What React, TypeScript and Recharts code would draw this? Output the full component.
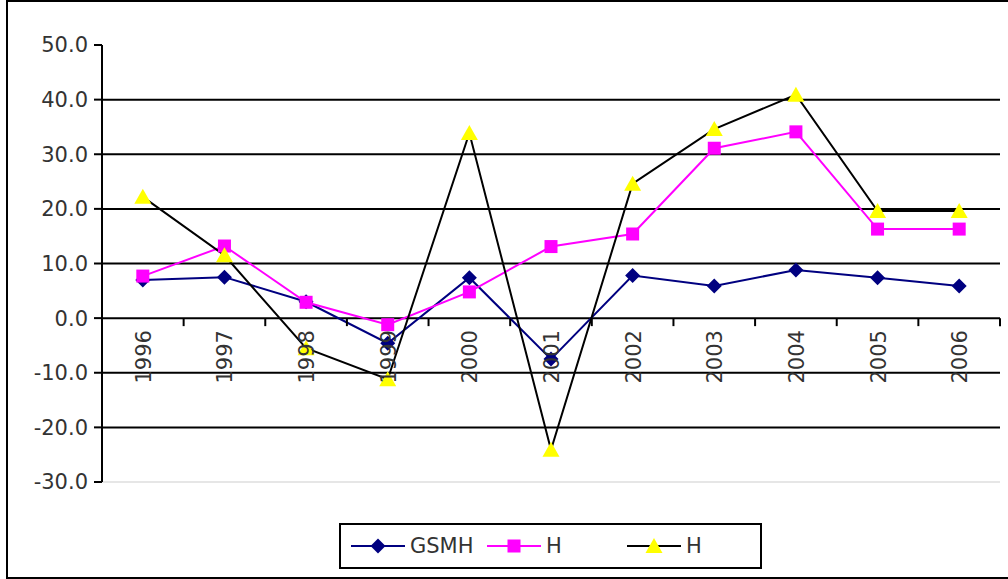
import { CartesianGrid, Line, LineChart, ReferenceLine, XAxis, YAxis } from "recharts";

const years = ["1996", "1997", "1998", "1999", "2000", "2001", "2002", "2003", "2004", "2005", "2006"];
const gsmh = [7.0, 7.5, 3.0, -4.6, 7.4, -7.5, 7.8, 5.9, 8.8, 7.4, 5.9];
const hPink = [7.7, 13.2, 2.9, -1.2, 4.8, 13.1, 15.4, 31.1, 34.1, 16.3, 16.3];
const hBlack = [22.2, 11.5, -5.5, -11.2, 33.9, -24.1, 24.6, 34.6, 40.9, 19.6, 19.6];
const yTicks = [-30, -20, -10, 0, 10, 20, 30, 40, 50];
const gridValues = [-20, -10, 10, 20, 30, 40];
const seriesNames = ["GSMH", "H", "H"];

const data = years.map((year, i) => ({
  year,
  gsmh: gsmh[i],
  hPink: hPink[i],
  hBlack: hBlack[i],
}));

const W = 1008;
const H = 579;
const yAxisW = 102;
const xAxisH = 30;
const M = { top: 45, right: 8, bottom: 97 - xAxisH, left: 0 };
const plotW = W - yAxisW - M.right;
const plotH = H - M.top - 97;
const yMin = -30;
const yMax = 50;
const zeroShift = (plotH * (0 - yMin)) / (yMax - yMin); // px from plot bottom up to the 0 line
const band = plotW / years.length;
const font = "'DejaVu Sans', sans-serif";
const fs = 21;

function Diamond(props: any) {
  const { cx, cy } = props;
  if (cx == null || cy == null) return null;
  const r = 7.5;
  return <path d={`M${cx},${cy - r}L${cx + r},${cy}L${cx},${cy + r}L${cx - r},${cy}Z`} fill="#000080" />;
}

function Square(props: any) {
  const { cx, cy } = props;
  if (cx == null || cy == null) return null;
  return <rect x={cx - 6.5} y={cy - 6.5} width={13} height={13} fill="#FF00FF" />;
}

function Triangle(props: any) {
  const { cx, cy } = props;
  if (cx == null || cy == null) return null;
  return <path d={`M${cx},${cy - 8}L${cx + 8.5},${cy + 7}L${cx - 8.5},${cy + 7}Z`} fill="#FFFF00" />;
}

function YearTick(props: any) {
  const { x, payload, index } = props;
  const zy = M.top + plotH - zeroShift;
  return (
    <g>
      <line x1={x - band / 2} y1={zy} x2={x - band / 2} y2={zy + 8} stroke="#000" strokeWidth={2} />
      {index === years.length - 1 && (
        <line x1={x + band / 2} y1={zy} x2={x + band / 2} y2={zy + 8} stroke="#000" strokeWidth={2} />
      )}
      <text
        x={0}
        y={0}
        transform={`translate(${x + 8},${zy + 12}) rotate(-90)`}
        textAnchor="end"
        fill="#333"
        fontSize={fs}
        fontFamily={font}
      >
        {payload.value}
      </text>
    </g>
  );
}

function LegendBox() {
  const item = (left: number, label: string, color: string, marker: JSX.Element) => (
    <div style={{ position: "absolute", left, top: 0, height: 42, display: "flex", alignItems: "center" }}>
      <svg width={56} height={20}>
        <line x1={0} y1={10} x2={54} y2={10} stroke={color} strokeWidth={2} />
        {marker}
      </svg>
      <span style={{ marginLeft: 3, fontSize: fs, color: "#333", fontFamily: font }}>{label}</span>
    </div>
  );
  return (
    <div
      style={{
        position: "absolute",
        left: 339,
        top: 523,
        width: 419,
        height: 42,
        border: "2px solid #000",
        boxSizing: "content-box",
        background: "#fff",
      }}
    >
      {item(10, seriesNames[0], "#000080", <Diamond cx={27} cy={10} />)}
      {item(146, seriesNames[1], "#FF00FF", <Square cx={27} cy={10} />)}
      {item(286, seriesNames[2], "#000", <Triangle cx={27} cy={10} />)}
    </div>
  );
}

export default function App() {
  return (
    <div style={{ position: "relative", width: W, height: H, background: "#fff", overflow: "hidden" }}>
      <style>{`body{margin:0}`}</style>
      <div
        style={{
          position: "absolute",
          left: 6,
          top: 0,
          width: W + 20,
          height: 575,
          border: "2px solid #000",
          boxSizing: "content-box",
        }}
      />
      <div style={{ position: "absolute", left: 0, top: 0 }}>
        <LineChart width={W} height={H} data={data} margin={M}>
          <CartesianGrid
            vertical={false}
            horizontalValues={gridValues}
            stroke="#000"
            strokeWidth={2}
          />
          <ReferenceLine y={-30} stroke="#e6e6e6" strokeWidth={2} />
          <ReferenceLine y={0} stroke="#000" strokeWidth={2} />
          <XAxis
            dataKey="year"
            scale="band"
            height={xAxisH}
            axisLine={false}
            tickLine={false}
            interval={0}
            tick={<YearTick />}
          />
          <YAxis
            domain={[yMin, yMax]}
            ticks={yTicks}
            interval={0}
            width={yAxisW}
            axisLine={{ stroke: "#000", strokeWidth: 2 }}
            tickLine={{ stroke: "#000", strokeWidth: 2 }}
            tickSize={8}
            tickMargin={6}
            tickFormatter={(v: number) => v.toFixed(1)}
            tick={{ fill: "#333", fontSize: fs, fontFamily: font }}
          />
          <Line
            dataKey="gsmh"
            name={seriesNames[0]}
            stroke="#000080"
            strokeWidth={2}
            dot={<Diamond />}
            activeDot={false}
            isAnimationActive={false}
          />
          <Line
            dataKey="hPink"
            name={seriesNames[1]}
            stroke="#FF00FF"
            strokeWidth={2}
            dot={<Square />}
            activeDot={false}
            isAnimationActive={false}
          />
          <Line
            dataKey="hBlack"
            name={seriesNames[2]}
            stroke="#000"
            strokeWidth={2}
            dot={<Triangle />}
            activeDot={false}
            isAnimationActive={false}
          />
        </LineChart>
      </div>
      <LegendBox />
    </div>
  );
}
